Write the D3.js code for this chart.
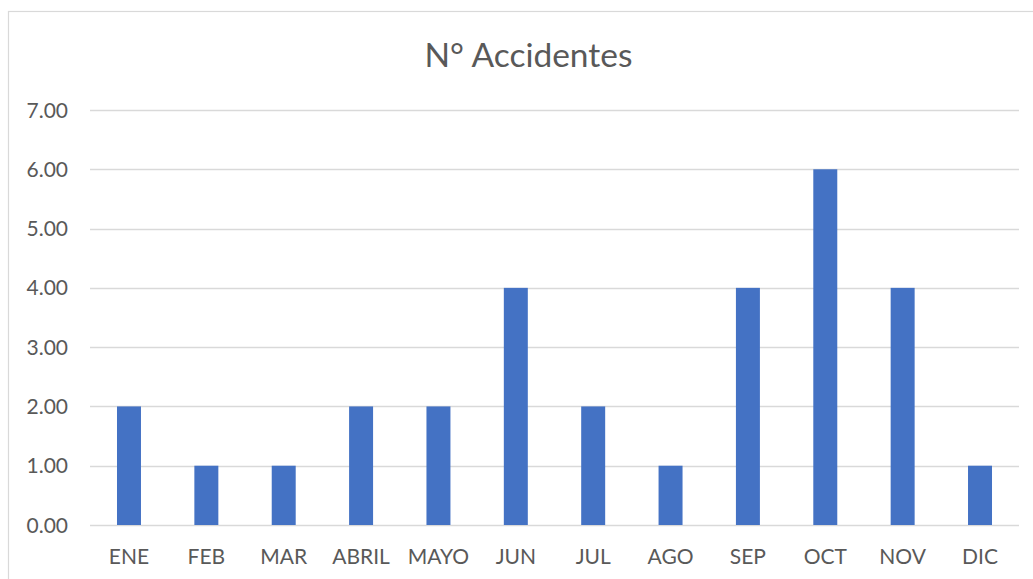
<!DOCTYPE html>
<html><head><meta charset="utf-8">
<script src="https://cdn.jsdelivr.net/npm/d3@7"></script>
<style>body{margin:0;background:#fff}svg{display:block}</style>
</head><body>
<script>
const categories = ["ENE","FEB","MAR","ABRIL","MAYO","JUN","JUL","AGO","SEP","OCT","NOV","DIC"];
const values = [2,1,1,2,2,4,2,1,4,6,4,1];
const yTicks = [0,1,2,3,4,5,6,7];
const title = "N° Accidentes";

const W = 1033, H = 579;
const svg = d3.select("body").append("svg").attr("width", W).attr("height", H);
const font = "Lato, 'Open Sans', sans-serif";

svg.append("rect").attr("x", 8.5).attr("y", 11.5).attr("width", 1040).attr("height", 600)
  .attr("fill", "#fff").attr("stroke", "#d9d9d9").attr("stroke-width", 1.2);

const x = d3.scaleBand().domain(categories).range([90.3, 1018.7]).paddingInner(0.69).paddingOuter(0.345);
const y = d3.scaleLinear().domain([0, 7]).range([525, 110]);

svg.append("g").selectAll("line").data(yTicks).join("line")
  .attr("x1", 90).attr("x2", 1019)
  .attr("y1", d => Math.round(y(d)) + 0.5).attr("y2", d => Math.round(y(d)) + 0.5)
  .attr("stroke", "#d9d9d9").attr("stroke-width", 1.3);

svg.append("g").selectAll("rect").data(values).join("rect")
  .attr("x", (d, i) => x(categories[i]))
  .attr("width", x.bandwidth())
  .attr("y", d => y(d)).attr("height", d => y(0) - y(d))
  .attr("fill", "#4472c4");

svg.append("g").selectAll("text").data(yTicks).join("text")
  .attr("x", 68).attr("y", d => y(d)).attr("dy", "0.36em")
  .attr("text-anchor", "end").attr("font-family", font).attr("font-size", 21)
  .attr("fill", "#595959").text(d => d3.format(".2f")(d));

svg.append("g").selectAll("text").data(categories).join("text")
  .attr("x", d => x(d) + x.bandwidth() / 2).attr("y", 564)
  .attr("text-anchor", "middle").attr("font-family", font).attr("font-size", 21)
  .attr("fill", "#595959").text(d => d);

svg.append("text").attr("x", 528.5).attr("y", 67).attr("text-anchor", "middle")
  .attr("font-family", font).attr("font-size", 33.5).attr("fill", "#595959").text(title);
</script>
</body></html>
